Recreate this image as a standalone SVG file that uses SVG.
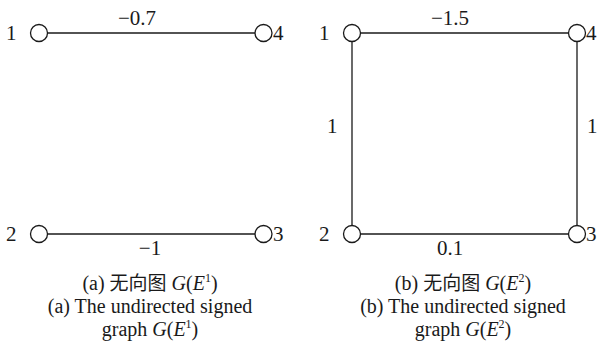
<svg xmlns="http://www.w3.org/2000/svg" width="600" height="347" viewBox="0 0 600 347">
<style>
.n{fill:#fff;stroke:#1a1a1a;stroke-width:1.3}
.e{stroke:#1a1a1a;stroke-width:1.3;fill:none}
text{font-family:"Liberation Serif","Times New Roman","Noto Sans CJK SC",serif;font-size:21px;fill:#1a1a1a}
.c{text-anchor:middle}
.cap{font-size:20px}
.cjk{font-family:"Noto Sans CJK SC","Noto Sans CJK JP",sans-serif;font-size:19px}
.i{font-style:italic}
.s{font-size:12px}
</style>
<rect width="600" height="347" fill="#fff"/>
<g id="connectors">
<line class="e" x1="47.5" y1="33" x2="255" y2="33"/>
<line class="e" x1="47.5" y1="234" x2="255" y2="234"/>
<line class="e" x1="361" y1="33" x2="568" y2="33"/>
<line class="e" x1="361" y1="234" x2="568" y2="234"/>
<line class="e" x1="352" y1="42" x2="352" y2="225"/>
<line class="e" x1="577" y1="42" x2="577" y2="225"/>
</g>
<g id="labels">
<text class="c" x="137" y="25">−0.7</text>
<text class="c" x="150" y="255">−1</text>
<text class="c" x="450" y="25">−1.5</text>
<text class="c" x="450" y="255">0.1</text>
<text x="327" y="133">1</text>
<text x="587" y="133">1</text>
</g>
<g id="a-n1"><circle class="n" cx="39" cy="33" r="8.5"/><text x="6" y="40">1</text></g>
<g id="a-n4"><circle class="n" cx="263.5" cy="33" r="8.5"/><text x="273" y="40">4</text></g>
<g id="a-n2"><circle class="n" cx="39" cy="234" r="8.5"/><text x="6" y="241">2</text></g>
<g id="a-n3"><circle class="n" cx="263.5" cy="234" r="8.5"/><text x="273" y="241">3</text></g>
<g id="b-n1"><circle class="n" cx="352" cy="33" r="8.5"/><text x="319" y="40">1</text></g>
<g id="b-n4"><circle class="n" cx="577" cy="33" r="8.5"/><text x="586" y="40">4</text></g>
<g id="b-n2"><circle class="n" cx="352" cy="234" r="8.5"/><text x="319" y="241">2</text></g>
<g id="b-n3"><circle class="n" cx="577" cy="234" r="8.5"/><text x="586" y="241">3</text></g>
<g id="caption-a">
<text class="c cap" x="150" y="290">(a) <tspan class="cjk">无向图</tspan> <tspan class="i">G</tspan>(<tspan class="i">E</tspan><tspan class="s" dy="-8">1</tspan><tspan dy="8">)</tspan></text>
<text class="c cap" x="150" y="313">(a) The undirected signed</text>
<text class="c cap" x="150" y="336">graph <tspan class="i">G</tspan>(<tspan class="i">E</tspan><tspan class="s" dy="-8">1</tspan><tspan dy="8">)</tspan></text>
</g>
<g id="caption-b">
<text class="c cap" x="463" y="290">(b) <tspan class="cjk">无向图</tspan> <tspan class="i">G</tspan>(<tspan class="i">E</tspan><tspan class="s" dy="-8">2</tspan><tspan dy="8">)</tspan></text>
<text class="c cap" x="463" y="313">(b) The undirected signed</text>
<text class="c cap" x="463" y="336">graph <tspan class="i">G</tspan>(<tspan class="i">E</tspan><tspan class="s" dy="-8">2</tspan><tspan dy="8">)</tspan></text>
</g>
</svg>
